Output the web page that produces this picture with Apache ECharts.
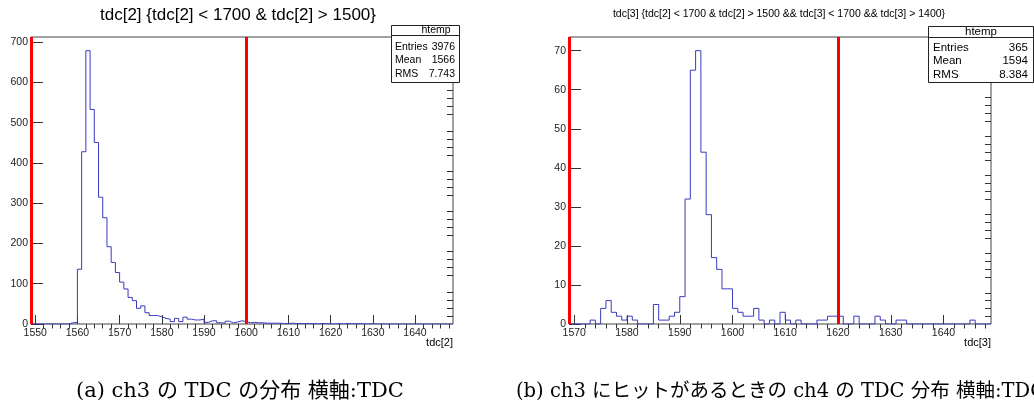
<!DOCTYPE html>
<html>
<head>
<meta charset="utf-8">
<script src="https://cdn.jsdelivr.net/npm/echarts@6/dist/echarts.min.js"></script>
<style>
html,body{margin:0;padding:0;background:#fff;}
#chart{width:1034px;height:408px;}
</style>
</head>
<body>
<div id="chart"></div>
<script>
// ---------- data ----------
// Left histogram: tdc[2], 1-unit bins starting at 1549
const leftBinStart = 1549;
const leftCounts = [
  0,0,0,0,0,0,0,0,0,3,          // 1549-1558
  4,136,428,679,533,451,315,264,192,153, // 1559-1568
  128,104,87,66,58,39,45,28,21,21,       // 1569-1578
  18,14,12,6,14,6,17,12,10,10,           // 1579-1588
  12,4,8,8,3,2,7,3,5,8,                  // 1589-1598
  6,3,4,3,3,2,2,2,2,1,                   // 1599-1608
  1,2,1,1,1,1,1,0,1,1,                   // 1609-1618
  0,0,1,0,1,1,0,1,0,0,                   // 1619-1628
  1,0,0,0,0,0,0,0,0,0,                   // 1629-1638
  0,0,0,0,0,0,0,0,0,0                    // 1639-1648
];
// Right histogram: tdc[3], 1-unit bins starting at 1569
const rightBinStart = 1569;
const rightCounts = [
  0,0,0,0,1,0,4,6,3,2,        // 1569-1578
  1,2,1,0,0,0,5,1,1,2,        // 1579-1588
  3,7,32,65,70,44,28,17,14,9, // 1589-1598
  9,4,3,2,2,4,1,0,1,0,        // 1599-1608
  3,1,0,1,0,0,0,1,1,2,        // 1609-1618
  2,2,0,0,2,0,0,0,2,1,        // 1619-1628
  0,0,1,1,0,0,0,0,0,0,        // 1629-1638
  0,0,0,0,0,0,1,0,0,0         // 1639-1648
];
const leftCuts = [1549, 1600];
const rightCuts = [1569, 1620];

const leftXMajor = [1550,1560,1570,1580,1590,1600,1610,1620,1630,1640];
const leftXMinor = [1552,1554,1556,1558,1562,1564,1566,1568,1572,1574,1576,1578,1582,1584,1586,1588,1592,1594,1596,1598,1602,1604,1606,1608,1612,1614,1616,1618,1622,1624,1626,1628,1632,1634,1636,1638,1642,1644,1646,1648];
const rightXMajor = [1570,1580,1590,1600,1610,1620,1630,1640];
const rightXMinor = [1572,1574,1576,1578,1582,1584,1586,1588,1592,1594,1596,1598,1602,1604,1606,1608,1612,1614,1616,1618,1622,1624,1626,1628,1632,1634,1636,1638,1642,1644,1646,1648];
const leftYMajor = [0,100,200,300,400,500,600,700];
const leftYMinor = [20,40,60,80,120,140,160,180,220,240,260,280,320,340,360,380,420,440,460,480,520,540,560,580,620,640,660,680];
const rightYMajor = [0,10,20,30,40,50,60,70];
const rightYMinor = [2,4,6,8,12,14,16,18,22,24,26,28,32,34,36,38,42,44,46,48,52,54,56,58,62,64,66,68,72];

const leftTitle = 'tdc[2] {tdc[2] < 1700 & tdc[2] > 1500}';
const rightTitle = 'tdc[3] {tdc[2] < 1700 & tdc[2] > 1500 && tdc[3] < 1700 && tdc[3] > 1400}';
const leftXName = 'tdc[2]';
const rightXName = 'tdc[3]';
const statLabels = ['Entries', 'Mean', 'RMS'];
const leftStats = ['3976', '1566', '7.743'];
const rightStats = ['365', '1594', '8.384'];
const statName = 'htemp';
const captionA = '(a) ch3 の TDC の分布 横軸:TDC';
const captionB = '(b) ch3 にヒットがあるときの ch4 の TDC 分布 横軸:TDC';

// ---------- build ----------
function stepData(start, counts) {
  const d = counts.map((c, i) => [start + i, c]);
  d.push([start + counts.length, counts[counts.length - 1]]);
  d.push([start + counts.length, 0]);
  return d;
}

const FONT = 'Liberation Sans, Arial, sans-serif';
const TICK = '#333';
const LBL = '#222';
const plain = v => String(v);

function xAxes(gi, min, max, major, minor) {
  return [
    { gridIndex: gi, type: 'value', min: min, max: max,
      axisLine: { show: false }, splitLine: { show: false },
      axisTick: { show: true, inside: true, length: 9, customValues: major, lineStyle: { color: TICK, width: 1 } },
      axisLabel: { show: true, customValues: major, formatter: plain, margin: 4, fontSize: 10.5, fontFamily: FONT, color: LBL } },
    { gridIndex: gi, type: 'value', min: min, max: max,
      axisLine: { show: false }, splitLine: { show: false },
      axisTick: { show: true, inside: true, length: 4.5, customValues: minor, lineStyle: { color: TICK, width: 1 } },
      axisLabel: { show: false } }
  ];
}
function yAxes(gi, min, max, major, minor) {
  return [
    { gridIndex: gi, type: 'value', min: min, max: max,
      axisLine: { show: false }, splitLine: { show: false },
      axisTick: { show: true, inside: true, length: 12, customValues: major, lineStyle: { color: TICK, width: 1 } },
      axisLabel: { show: true, customValues: major, formatter: plain, margin: 3, fontSize: 10.5, fontFamily: FONT, color: LBL } },
    { gridIndex: gi, type: 'value', min: min, max: max,
      axisLine: { show: false }, splitLine: { show: false },
      axisTick: { show: true, inside: true, length: 6, customValues: minor, lineStyle: { color: TICK, width: 1 } },
      axisLabel: { show: false } }
  ];
}

function histSeries(xi, yi, start, counts, cuts) {
  return {
    type: 'line', xAxisIndex: xi, yAxisIndex: yi, step: 'end',
    data: stepData(start, counts), symbol: 'none', silent: true,
    lineStyle: { color: '#3a3ac0', width: 1 },
    markLine: {
      silent: true, symbol: ['none', 'none'], label: { show: false },
      lineStyle: { color: '#ff0000', width: 3, type: 'solid' },
      data: cuts.map(v => ({ xAxis: v }))
    }
  };
}

function statBox(x, y, w, h, sepY, headX, labelX, valX, rowYs, headY, vals, fs) {
  const f = fs + 'px ' + FONT;
  const els = [
    { type: 'rect', shape: { x: x + 0.5, y: y + 0.5, width: w, height: h }, style: { fill: '#fff', stroke: '#222', lineWidth: 1 }, z: 10 },
    { type: 'line', shape: { x1: x + 0.5, y1: sepY + 0.5, x2: x + w + 0.5, y2: sepY + 0.5 }, style: { stroke: '#222', lineWidth: 1 }, z: 11 },
    { type: 'text', x: headX, y: headY, style: { text: statName, font: f, fill: '#000', textAlign: 'center', textVerticalAlign: 'middle' }, z: 12 }
  ];
  statLabels.forEach((s, i) => {
    els.push({ type: 'text', x: labelX, y: rowYs[i], style: { text: s, font: f, fill: '#000', textAlign: 'left', textVerticalAlign: 'middle' }, z: 12 });
    els.push({ type: 'text', x: valX, y: rowYs[i], style: { text: vals[i], font: f, fill: '#000', textAlign: 'right', textVerticalAlign: 'middle' }, z: 12 });
  });
  return els;
}

const CAPFONT_A = '21px "DejaVu Serif", "Noto Sans CJK JP", serif';
const CAPFONT_B = '19.5px "DejaVu Serif", "Noto Sans CJK JP", serif';

const option = {
  animation: false,
  backgroundColor: '#fff',
  grid: [
    { left: 31, top: 37, width: 422, height: 287, show: true, borderColor: '#444', borderWidth: 1, backgroundColor: 'transparent' },
    { left: 569, top: 37, width: 422, height: 287, show: true, borderColor: '#444', borderWidth: 1, backgroundColor: 'transparent' }
  ],
  xAxis: [].concat(
    xAxes(0, 1549, 1649, leftXMajor, leftXMinor),
    xAxes(1, 1569, 1649, rightXMajor, rightXMinor)
  ),
  yAxis: [].concat(
    yAxes(0, 0, 713, leftYMajor, leftYMinor),
    yAxes(1, 0, 73.5, rightYMajor, rightYMinor)
  ),
  series: [
    histSeries(0, 0, leftBinStart, leftCounts, leftCuts),
    histSeries(2, 2, rightBinStart, rightCounts, rightCuts)
  ],
  graphic: [].concat(
    [
      { type: 'text', x: 238, y: 15, style: { text: leftTitle, font: '17px ' + FONT, fill: '#000', textAlign: 'center', textVerticalAlign: 'middle' } },
      { type: 'text', x: 779, y: 14, style: { text: rightTitle, font: '10.5px ' + FONT, fill: '#000', textAlign: 'center', textVerticalAlign: 'middle' } },
      { type: 'text', x: 453, y: 343, style: { text: leftXName, font: '11px ' + FONT, fill: '#000', textAlign: 'right', textVerticalAlign: 'middle' } },
      { type: 'text', x: 991, y: 343, style: { text: rightXName, font: '11px ' + FONT, fill: '#000', textAlign: 'right', textVerticalAlign: 'middle' } },
      { type: 'text', x: 76, y: 392, style: { text: captionA, font: CAPFONT_A, fill: '#000', textAlign: 'left', textVerticalAlign: 'middle' } },
      { type: 'text', x: 516, y: 392, style: { text: captionB, font: CAPFONT_B, fill: '#000', textAlign: 'left', textVerticalAlign: 'middle' } }
    ],
    statBox(391, 25, 68, 57, 35, 436, 395, 455, [47, 60.5, 74], 30.5, leftStats, 10.5),
    statBox(928, 26, 105, 56, 37, 981, 933, 1028, [47.5, 61, 74.5], 31.5, rightStats, 11.5)
  )
};

const chart = echarts.init(document.getElementById('chart'), null, { renderer: 'canvas' });
chart.setOption(option);
</script>
</body>
</html>
